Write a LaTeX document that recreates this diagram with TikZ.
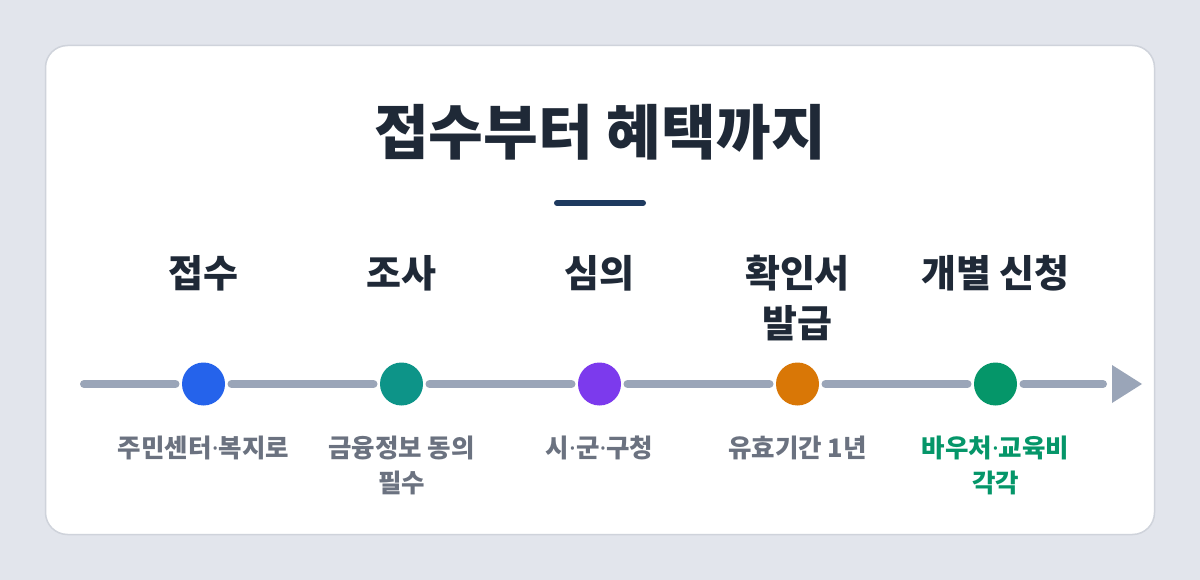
\documentclass[tikz,border=0pt]{standalone}
\usepackage{fontspec}
\newfontfamily\kr{Noto Sans CJK KR}
\newfontfamily\latdot{Noto Sans}
\newcommand{\mdot}{{\latdot\bfseries ·}}
\definecolor{bgc}{HTML}{E2E5EC}
\definecolor{cardborder}{HTML}{CFD3DB}
\definecolor{titlec}{HTML}{1F2937}
\definecolor{ulc}{HTML}{1E3A5F}
\definecolor{linec}{HTML}{9AA5B8}
\definecolor{subc}{HTML}{6B7280}
\definecolor{greenc}{HTML}{059669}
\definecolor{c1}{HTML}{2563EB}
\definecolor{c2}{HTML}{0D9488}
\definecolor{c3}{HTML}{7C3AED}
\definecolor{c4}{HTML}{D97706}
\definecolor{c5}{HTML}{059669}
\tikzset{
  dot/.style={circle, minimum size=43pt, inner sep=0pt, outer sep=6.5pt, fill=#1},
  seg/.style={draw=linec, line width=8pt, line cap=round},
  stagelbl/.style={anchor=north, inner sep=0pt, align=center, text=titlec, font=\kr\bfseries\fontsize{38}{50}\selectfont},
  sublbl/.style={anchor=north, inner sep=0pt, align=center, text=subc, font=\kr\bfseries\fontsize{25.5}{35}\selectfont},
}
\begin{document}
\begin{tikzpicture}[x=1pt,y=-1pt]
\useasboundingbox (0,0) rectangle (1200,580);
\fill[bgc] (0,0) rectangle (1200,580);
\draw[fill=white, draw=cardborder, line width=1.5pt, rounded corners=22pt] (45.5,45.5) rectangle (1154.5,534.5);
% title
\node[inner sep=0pt, text=titlec, font=\kr\bfseries\fontsize{59.5}{64}\selectfont] (title) at (600,132) {접수부터 혜택까지};
\draw[ulc, line width=6pt, line cap=round] (557,203) -- (643,203);
% timeline
\coordinate (lstart) at (84,384);
\coordinate (lend) at (1103,384);
\node[dot=c1] (s1) at (203.5,384) {};
\node[dot=c2] (s2) at (401.5,384) {};
\node[dot=c3] (s3) at (599.5,384) {};
\node[dot=c4] (s4) at (797.5,384) {};
\node[dot=c5] (s5) at (995.5,384) {};
\draw[seg] (lstart) -- (s1);
\draw[seg] (s1) -- (s2);
\draw[seg] (s2) -- (s3);
\draw[seg] (s3) -- (s4);
\draw[seg] (s4) -- (s5);
\draw[seg] (s5) -- (lend);
\fill[linec] (1112,365) -- (1142,384) -- (1112,403) -- cycle;
% stage labels
\node[stagelbl] (t1) at (203.5,255) {접수};
\node[stagelbl] (t2) at (401.5,255) {조사};
\node[stagelbl] (t3) at (599.5,255) {심의};
\node[stagelbl] (t4) at (797.5,255) {확인서\\발급};
\node[stagelbl] (t5) at (995.5,255) {개별 신청};
% sub labels
\node[sublbl] (d1) at (203.5,436) {주민센터\mdot 복지로};
\node[sublbl] (d2) at (401.5,436) {금융정보 동의\\필수};
\node[sublbl] (d3) at (599.5,436) {시\mdot 군\mdot 구청};
\node[sublbl] (d4) at (797.5,436) {유효기간 1년};
\node[sublbl, text=greenc] (d5) at (995.5,436) {바우처\mdot 교육비\\각각};
\end{tikzpicture}
\end{document}
